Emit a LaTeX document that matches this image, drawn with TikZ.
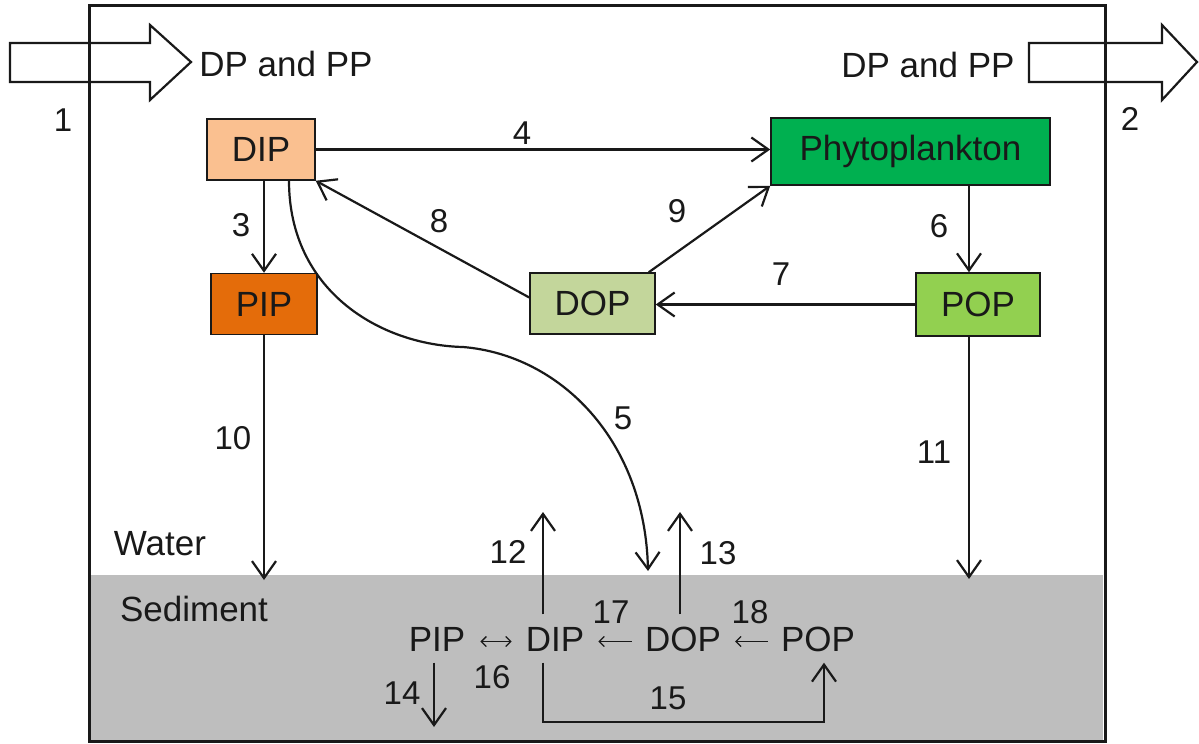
\documentclass[tikz,border=0pt]{standalone}
\usepackage{fontspec}
\setmainfont{Liberation Sans}
\usetikzlibrary{arrows.meta,calc}
\definecolor{dipc}{HTML}{FAC090}
\definecolor{pipc}{HTML}{E46C0A}
\definecolor{dopc}{HTML}{C3D69B}
\definecolor{popc}{HTML}{92D050}
\definecolor{phyc}{HTML}{00B050}
\definecolor{sedc}{RGB}{190,190,190}
\definecolor{ink}{RGB}{25,25,25}
\begin{document}
\begin{tikzpicture}[x=1pt,y=-1pt,
  every node/.style={text=ink},
  box/.style={draw=ink,line width=1.5,inner sep=0,anchor=center,font=\fontsize{35}{40}\selectfont},
  word/.style={inner sep=0,anchor=center,font=\fontsize{35}{40}\selectfont},
  sword/.style={inner sep=0,anchor=center,minimum height=48,text height=25,text depth=0,font=\fontsize{35}{40}\selectfont},
  lbl/.style={inner sep=0,anchor=center,font=\fontsize{33}{38}\selectfont},
  arr/.style={draw=ink,line width=2.2,-{Straight Barb[length=17,width=24,line width=2.2]}},
  sarr/.style={draw=ink,line width=1.3},
  blk/.style={draw=ink,line width=2.2,line join=miter}]
\useasboundingbox (0,0) rectangle (1199,744);
% sediment
\fill[sedc] (91,575) rectangle (1103,740);
% block arrows
\draw[blk] (10,43) -- (150,43) -- (150,25) -- (191,62) -- (150,100) -- (150,82) -- (10,82) -- cycle;
\draw[blk] (1029,43) -- (1162,43) -- (1162,25) -- (1197,62) -- (1162,100) -- (1162,82) -- (1029,82) -- cycle;
% frame
\draw[ink,line width=3] (89,5) rectangle (1105,741);
% texts
\node[word] (inDP) at (286,64) {DP and PP};
\node[word] (outDP) at (928,65) {DP and PP};
\node[lbl] (l1) at (63,120) {1};
\node[lbl] (l2) at (1130,119) {2};
\node[word] (water) at (160,544) {Water};
\node[word] (sediment) at (194,609) {Sediment};
% boxes
\node[box,fill=dipc,minimum width=108,minimum height=61] (dip) at (261,149.5) {DIP};
\node[box,fill=pipc,minimum width=106,minimum height=61] (pip) at (264,304) {PIP};
\node[box,fill=dopc,minimum width=125,minimum height=61] (dop) at (592.5,303.5) {DOP};
\node[box,fill=phyc,minimum width=279,minimum height=67] (phy) at (910.5,151.5) {Phytoplankton};
\node[box,fill=popc,minimum width=124,minimum height=63] (pop) at (978,304.5) {POP};
% water column fluxes
\draw[arr] (dip.east) -- (dip.east -| phy.west);
\draw[arr] ([xshift=3]dip.south) -- (pip.north);
\draw[arr] ([yshift=6]dop.west) -- (dip.south east);
\draw[arr] ([xshift=-7]dop.north east) -- (phy.south west);
\draw[arr] ([xshift=-9]pop.north |- phy.south) -- ([xshift=-9]pop.north);
\draw[arr] (pop.west) -- (pop.west -| dop.east);
\coordinate (c10) at (264,580);
\coordinate (c11) at (969,579);
\coordinate (c5) at (648,571);
\draw[arr] (pip.south) -- (c10);
\draw[arr] ([xshift=-9]pop.south) -- (c11);
\draw[arr] ([xshift=28]dip.south) .. controls +(0,110) and (380,345) .. (463,347) .. controls (560,355) and (645,440) .. (c5);
% labels
\node[lbl] (l4) at (522,133) {4};
\node[lbl] (l3) at (241,225) {3};
\node[lbl] (l8) at (439,221) {8};
\node[lbl] (l9) at (677,211) {9};
\node[lbl] (l6) at (939,226) {6};
\node[lbl] (l7) at (781,274) {7};
\node[lbl] (l5) at (623,418) {5};
\node[lbl] (l10) at (233,438) {10};
\node[lbl] (l11) at (934,452) {11};
% sediment pools
\node[sword] (sPIP) at (437,638.5) {PIP};
\node[sword] (sDIP) at (555,638.5) {DIP};
\node[sword] (sDOP) at (683,638.5) {DOP};
\node[sword] (sPOP) at (818,638.5) {POP};
\draw[sarr,{Straight Barb[length=5,width=10]}-{Straight Barb[length=5,width=10]}] ([xshift=15,yshift=-3]sPIP.east) -- ([xshift=-14,yshift=-3]sDIP.west);
\draw[sarr,-{Straight Barb[length=5,width=10]}] ([xshift=-13,yshift=-3]sDOP.west) -- ([xshift=14,yshift=-3]sDIP.east);
\draw[sarr,-{Straight Barb[length=5,width=10]}] ([xshift=-13,yshift=-3]sPOP.west) -- ([xshift=14,yshift=-3]sDOP.east);
\coordinate (c12) at (543,512);
\coordinate (c13) at (680,512);
\coordinate (c14) at (434,727);
\coordinate (c15) at (824,722);
\draw[arr] ([xshift=-12]sDIP.north) -- (c12);
\draw[arr] ([xshift=-3]sDOP.north) -- (c13);
\draw[arr] ([xshift=-3]sPIP.south) -- (c14);
\draw[arr] ([xshift=-12]sDIP.south) |- (c15) -- ([xshift=6]sPOP.south);
\node[lbl] (l12) at (508,552) {12};
\node[lbl] (l13) at (718,553) {13};
\node[lbl] (l17) at (611,612) {17};
\node[lbl] (l18) at (750,612) {18};
\node[lbl] (l16) at (492,677) {16};
\node[lbl] (l14) at (402,693) {14};
\node[lbl] (l15) at (668,698) {15};
\end{tikzpicture}
\end{document}
